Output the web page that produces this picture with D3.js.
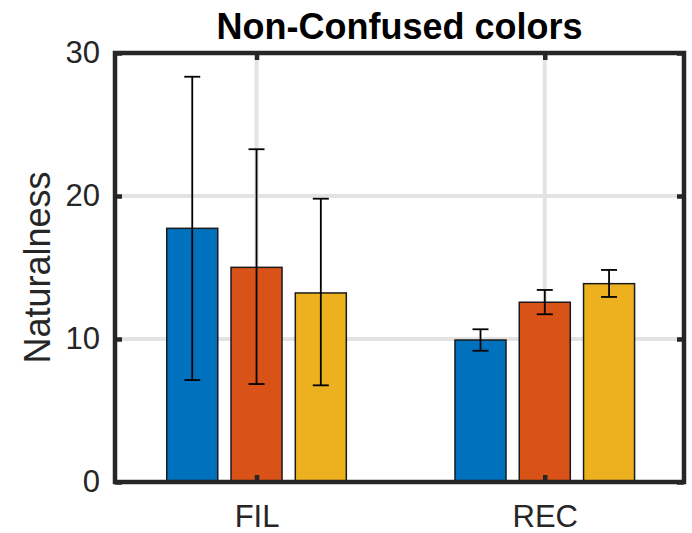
<!DOCTYPE html>
<html>
<head>
<meta charset="utf-8">
<script src="https://cdn.jsdelivr.net/npm/d3@7"></script>
<style>
  body { margin: 0; background: #fff; }
  svg { display: block; font-family: "Liberation Sans", Arial, sans-serif; }
</style>
</head>
<body>
<div id="chart"></div>
<script>
// data
var categories = ["FIL", "REC"];
var seriesColors = ["#0072BD", "#D95319", "#EDB120"];

var meanBlue = [17.74, 9.93];
var meanOrange = [15.01, 12.57];
var meanYellow = [13.22, 13.87];

var lowBlue = [7.13, 9.18];
var lowOrange = [6.85, 11.73];
var lowYellow = [6.76, 12.94];

var highBlue = [28.34, 10.68];
var highOrange = [23.27, 13.43];
var highYellow = [19.81, 14.83];

var yTicks = [0, 10, 20, 30];

function drawChart() {
    var w = 692, h = 533;
    var left = 115, right = 684, top = 53, bottom = 482;

    var svg = d3.select("#chart")
        .append("svg")
        .attr("width", w)
        .attr("height", h);

    var x = d3.scaleLinear().domain([0.509, 2.483]).range([left, right]);
    var y = d3.scaleLinear().domain([0, 30]).range([bottom, top]);

    var offsets = [-0.223, 0, 0.223];
    var barW = 0.177;

    var means = [meanBlue, meanOrange, meanYellow];
    var lows = [lowBlue, lowOrange, lowYellow];
    var highs = [highBlue, highOrange, highYellow];

    // flatten into bar records
    var bars = [];
    means.forEach((s, si) => {
        s.forEach((v, ci) => {
            bars.push({ cat: ci + 1, series: si, value: v, lo: lows[si][ci], hi: highs[si][ci] });
        });
    });

    // grid
    var grid = svg.append("g").attr("stroke", "#e3e3e3").attr("stroke-width", 4);
    grid.selectAll(".gy")
        .data(yTicks.slice(1, -1))
        .enter()
        .append("line")
        .attr("x1", left).attr("x2", right)
        .attr("y1", d => y(d)).attr("y2", d => y(d));
    grid.selectAll(".gx")
        .data([1, 2])
        .enter()
        .append("line")
        .attr("x1", d => x(d)).attr("x2", d => x(d))
        .attr("y1", top).attr("y2", bottom);

    // bars
    svg.selectAll(".bar")
        .data(bars)
        .enter()
        .append("rect")
        .attr("x", d => x(d.cat + offsets[d.series] - barW / 2))
        .attr("width", d => x(d.cat + barW / 2) - x(d.cat - barW / 2))
        .attr("y", d => y(d.value))
        .attr("height", d => y(0) - y(d.value))
        .attr("fill", d => seriesColors[d.series])
        .attr("stroke", "#1a1a1a")
        .attr("stroke-width", 1.5);

    // error bars
    var capHalf = 8;
    var eb = svg.append("g").attr("stroke", "#000").attr("stroke-width", 1.8);
    bars.forEach(d => {
        var cx = x(d.cat + offsets[d.series]);
        eb.append("line").attr("x1", cx).attr("x2", cx).attr("y1", y(d.lo)).attr("y2", y(d.hi));
        eb.append("line").attr("x1", cx - capHalf).attr("x2", cx + capHalf).attr("y1", y(d.lo)).attr("y2", y(d.lo));
        eb.append("line").attr("x1", cx - capHalf).attr("x2", cx + capHalf).attr("y1", y(d.hi)).attr("y2", y(d.hi));
    });

    // axes (ticks point inward like MATLAB)
    var tickLen = 7;
    var yAxis = svg.append("g")
        .attr("transform", `translate(${left},0)`)
        .call(d3.axisLeft(y).tickValues(yTicks).tickSize(-tickLen).tickPadding(15));
    var yAxisR = svg.append("g")
        .attr("transform", `translate(${right},0)`)
        .call(d3.axisRight(y).tickValues(yTicks).tickSize(-tickLen).tickFormat(""));
    var xAxis = svg.append("g")
        .attr("transform", `translate(0,${bottom})`)
        .call(d3.axisBottom(x).tickValues([1, 2]).tickSize(-tickLen).tickPadding(23)
            .tickFormat(d => categories[d - 1]));
    var xAxisT = svg.append("g")
        .attr("transform", `translate(0,${top})`)
        .call(d3.axisTop(x).tickValues([1, 2]).tickSize(-tickLen).tickFormat(""));

    [yAxis, yAxisR, xAxis, xAxisT].forEach(a => {
        a.select(".domain").remove();
        a.selectAll(".tick line").attr("stroke", "#262626").attr("stroke-width", 4.5);
        a.selectAll(".tick text")
            .attr("fill", "#262626")
            .style("font-size", "31px")
            .style("font-family", "'Liberation Sans', Arial, sans-serif");
    });

    // box
    svg.append("rect")
        .attr("x", left).attr("y", top)
        .attr("width", right - left).attr("height", bottom - top)
        .attr("fill", "none")
        .attr("stroke", "#262626")
        .attr("stroke-width", 4.5);

    // labels
    svg.append("text")
        .attr("transform", `translate(50,${(top + bottom) / 2}) rotate(-90)`)
        .attr("text-anchor", "middle")
        .attr("fill", "#262626")
        .style("font-size", "36px")
        .text("Naturalness");

    svg.append("text")
        .attr("x", (left + right) / 2)
        .attr("y", 39)
        .attr("text-anchor", "middle")
        .attr("fill", "#000")
        .style("font-size", "36px")
        .style("font-weight", "bold")
        .text("Non-Confused colors");
}

window.onload = drawChart;
</script>
</body>
</html>
